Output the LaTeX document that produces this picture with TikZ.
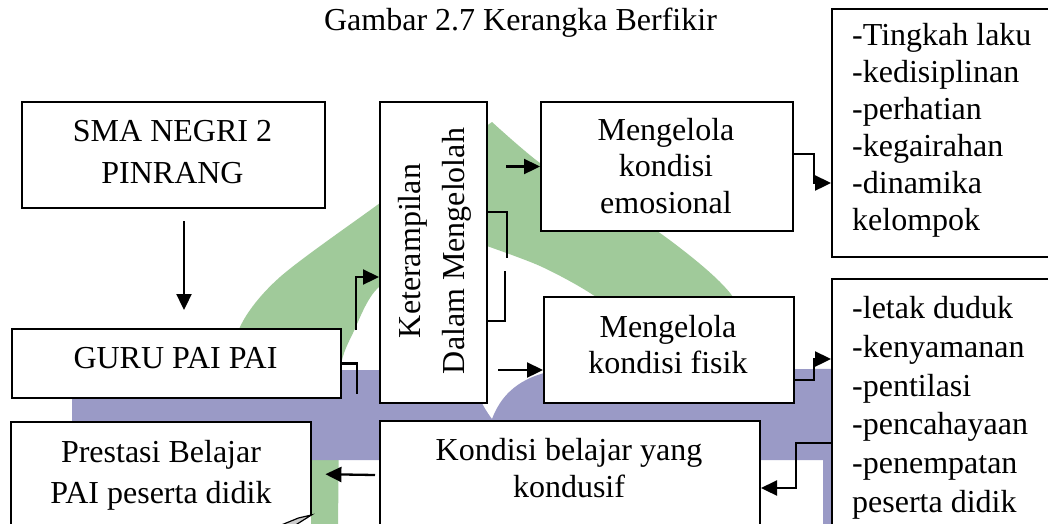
\documentclass[tikz,border=0pt]{standalone}
\usepackage{fontspec}
\setmainfont{Liberation Serif}
\usetikzlibrary{arrows.meta,calc}
\definecolor{wmgreen}{RGB}{160,202,154}
\definecolor{wmpurple}{RGB}{154,154,198}
\tikzset{
  frame/.style={draw=black, line width=2pt, fill=white, inner sep=0pt, anchor=north west},
  txt/.style={inner sep=0pt, align=center},
  conn/.style={line width=2.3pt},
  arr/.style={conn, -{Triangle[length=16pt,width=15pt]}},
}
\begin{document}
\begin{tikzpicture}[x=1pt,y=-1pt]
\useasboundingbox (0,0) rectangle (1048,523);
\clip (0,0) rectangle (1048,523);
\fill[white] (0,0) rectangle (1048,523);

% faint logo behind the chart: green dome
\fill[wmgreen] plot[smooth] coordinates {(228,540) (230,460) (233,380) (240,327) (280,277) (380,203) (492,122)}
  -- plot[smooth] coordinates {(492,122) (540,163) (600,200) (660,233) (730,293) (768,370) (778,455)}
  -- plot[smooth] coordinates {(690,455) (670,380) (640,330) (590,293) (540,266) (484,245)}
  -- plot[smooth] coordinates {(484,245) (440,259) (379,287) (353,333) (341,365) (339,420) (338,540)}
  -- cycle;
% purple base band
\fill[wmpurple] (72,370) -- (468,370) .. controls (474,388) and (482,406) .. (492,419)
  .. controls (500,398) and (515,380) .. (548,372) -- (900,368) -- (900,540)
  -- (823,540) -- (823,460) -- (72,460) -- cycle;

% title
\node[inner sep=0pt, anchor=base, font=\fontsize{32}{38}\selectfont] (title) at (520.5,30) {Gambar 2.7 Kerangka Berfikir};

% boxes
\node[frame, minimum width=303pt, minimum height=106pt] (sma) at (21,101) {};
\node[frame, minimum width=329pt, minimum height=69pt] (guru) at (11,328) {};
\node[frame, minimum width=107pt, minimum height=301pt] (ket) at (379,101) {};
\node[frame, minimum width=252pt, minimum height=129pt] (emo) at (540,101) {};
\node[frame, minimum width=250pt, minimum height=106pt] (fis) at (543,296) {};
\node[frame, minimum width=380pt, minimum height=150pt] (kond) at (379,420) {};
\node[frame, minimum width=300pt, minimum height=248pt] (list1) at (831,8) {};
\node[frame, minimum width=300pt, minimum height=300pt] (list2) at (831,278) {};
\node[inner sep=0pt, fill=white, anchor=north west, minimum width=300pt, minimum height=150pt] (pres) at (11,422) {};
% box with folded lower corner
\draw[line width=2pt] (pres.south west) -- (pres.north west) -- (pres.north east) -- ($(pres.north east)+(0,93)$);
\draw[line width=1.2pt, fill=gray!40] ($(pres.north east)+(0,93)$) -- ++(-13,3) -- ++(-22,9) -- ++(16,0) -- cycle;

% connectors
\draw[arr] ($(sma.south)+(10.5,12)$) -- ($(guru.north)+(7.5,-18)$);
\draw[conn] (guru.east) -| ($(guru.east)+(15,30.5)$);
\draw[arr] ($(guru.north east)+(14,2)$) |- ($(ket.west)+(0,24.5)$);
\draw[arr] ($(emo.west)+(-34,0)$) -- (emo.west);
\draw[conn] ($(ket.east)+(0,-40.5)$) -| ($(ket.east)+(19,5.5)$);
\draw[conn] ($(ket.east)+(17,18.5)$) |- ($(ket.east)+(0,68.5)$);
\draw[arr] ($(fis.west)+(-45,20)$) -- ($(fis.west)+(0,20)$);
\draw[arr] ($(emo.east)+(0,-12.5)$) -- ++(20,0) |- ($(list1.west)+(0,50)$);
\draw[arr] ($(fis.east)+(0,30)$) -- ++(19,0) |- ($(list2.west)+(0,-70)$);
\draw[arr] ($(list2.west)+(0,14)$) -- ++(-35,0) |- ($(kond.east)+(0,-8)$);
\draw[arr] ($(kond.west)+(-4,-21)$) -- ($(pres.east)+(14,-23)$);

% box texts
\node[txt, anchor=north, font=\fontsize{32}{42}\selectfont] (sma-t) at (172.5,120.4) {SMA NEGRI 2\\PINRANG};
\node[txt, anchor=north, font=\fontsize{32}{38}\selectfont] (guru-t) at (175.5,346.8) {GURU PAI PAI};
\node[txt, rotate=90, font=\fontsize{32}{44}\selectfont] (ket-t) at (434.5,251) {Keterampilan\\Dalam Mengelolah};
\node[txt, anchor=north, font=\fontsize{32}{36.5}\selectfont] (emo-t) at (666,118) {Mengelola\\kondisi\\emosional};
\node[txt, anchor=north, font=\fontsize{32}{36}\selectfont] (fis-t) at (668,315) {Mengelola\\kondisi fisik};
\node[txt, anchor=north, font=\fontsize{32}{37}\selectfont] (kond-t) at (569,438) {Kondisi belajar yang\\kondusif};
\node[txt, anchor=north, font=\fontsize{32}{41}\selectfont] (pres-t) at (161,440) {Prestasi Belajar\\PAI peserta didik};
\node[txt, align=left, anchor=north west, font=\fontsize{32}{37}\selectfont] (list1-t) at (852,23)
  {-Tingkah laku\\-kedisiplinan\\-perhatian\\-kegairahan\\-dinamika\\kelompok};
\node[txt, align=left, anchor=north west, font=\fontsize{32}{38.8}\selectfont] (list2-t) at (852,296)
  {-letak duduk\\-kenyamanan\\-pentilasi\\-pencahayaan\\-penempatan\\peserta didik};
\end{tikzpicture}
\end{document}
